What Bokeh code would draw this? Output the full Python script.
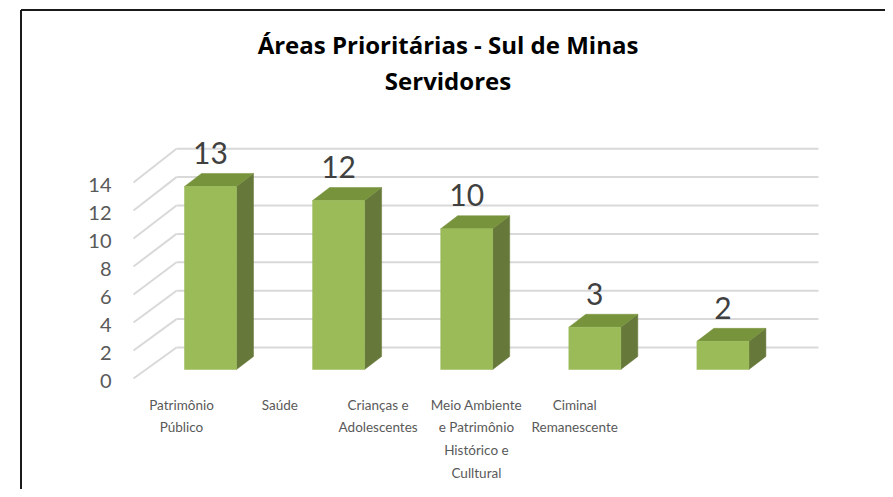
from bokeh.plotting import figure
from bokeh.models import Range1d, ColumnDataSource
from bokeh.core.properties import value
from bokeh.embed import file_html
from bokeh.resources import INLINE

# ---------------- data ----------------
title_lines = ["Áreas Prioritárias - Sul de Minas", "Servidores"]
categories = ["Patrimônio\nPúblico", "Saúde", "Crianças e\nAdolescentes",
              "Meio Ambiente\ne Patrimônio\nHistórico e\nCulltural",
              "Ciminal\nRemanescente"]
values = [13, 12, 10, 3, 2]
y_ticks = [0, 2, 4, 6, 8, 10, 12, 14]

# ---------------- geometry (pixel calibration) ----------------
W, H = 885, 489
X0, DX = 210.0, 128.1   # px of category 0 centre, px per category
Y0, DY = 369.0, 14.08   # px of value 0 on the bar plane, px per unit


def px_x(cx):
    return (cx - X0) / DX


def px_y(cy):
    return (Y0 - cy) / DY


def wall_y(v, off, scale):
    return px_y(off - scale * v)


FONT = "Lato"
GRID = "#d9d9d9"
FRONT = "#9bbb59"
TOP = "#77933c"
SIDE = "#66793a"

p = figure(width=W, height=H,
           x_range=Range1d(px_x(0), px_x(W)), y_range=Range1d(px_y(H), px_y(0)),
           output_backend="svg", toolbar_location=None,
           x_axis_location=None, y_axis_location=None,
           min_border=0, outline_line_color=None, background_fill_color="white",
           border_fill_color="white")
p.grid.visible = False

# ---------------- back wall & side wall grid ----------------
bx0, bx1 = px_x(176), px_x(818)
fx = px_x(133)
grid_src = ColumnDataSource(dict(
    x0=[bx0 for v in y_ticks], x1=[bx1 for v in y_ticks],
    y=[wall_y(v, 347, 14.2) for v in y_ticks]))
p.segment(x0="x0", y0="y", x1="x1", y1="y", source=grid_src,
          line_color=GRID, line_width=2)
diag_src = ColumnDataSource(dict(
    x0=[fx for v in y_ticks], y0=[wall_y(v, 378, 14.0) for v in y_ticks],
    x1=[bx0 for v in y_ticks], y1=[wall_y(v, 347, 14.2) for v in y_ticks]))
p.segment(x0="x0", y0="y0", x1="x1", y1="y1", source=diag_src,
          line_color=GRID, line_width=2)

# ---------------- 3D bars ----------------
hw = 26.0 / DX
ddx = 17.0 / DX
ddy = 13.0 / DY
xs = list(range(len(values)))

side_xs = [[i + hw, i + hw + ddx, i + hw + ddx, i + hw] for i in xs]
side_ys = [[0, ddy, v + ddy, v] for v in values]
top_xs = [[i - hw, i + hw, i + hw + ddx, i - hw + ddx] for i in xs]
top_ys = [[v, v, v + ddy, v + ddy] for v in values]
p.patches(side_xs, side_ys, fill_color=SIDE, line_color=SIDE, line_width=0.5)
p.patches(top_xs, top_ys, fill_color=TOP, line_color=TOP, line_width=0.5)
p.quad(left=[i - hw for i in xs], right=[i + hw for i in xs],
       bottom=[0 for v in values], top=values,
       fill_color=FRONT, line_color=FRONT, line_width=0.5)

# value labels
p.text(x=xs, y=[v + 33.5 / DY for v in values], text=[str(v) for v in values],
       text_font=value(FONT), text_font_size=value("30px"),
       text_color="#404040", text_align="center", text_baseline="alphabetic")

# ---------------- y tick labels (front plane) ----------------
p.text(x=[px_x(111) for v in y_ticks], y=[wall_y(v, 380, 14.0) for v in y_ticks],
       text=[str(v) for v in y_ticks],
       text_font=value(FONT), text_font_size=value("20px"),
       text_color="#595959", text_align="right", text_baseline="middle")

# ---------------- category labels ----------------
p.text(x=[px_x(181 + 98.3 * i) for i in xs], y=[px_y(396) for i in xs],
       text=categories, text_font=value(FONT), text_font_size=value("13.5px"),
       text_color="#595959", text_align="center", text_baseline="top",
       text_line_height=1.42)

# ---------------- title ----------------
p.text(x=[px_x(447.5), px_x(447.5)], y=[px_y(44), px_y(80)], text=title_lines,
       text_font=value("Open Sans"), text_font_size=value("24px"), text_font_style="bold",
       text_color="#000000", text_align="center", text_baseline="alphabetic")

# ---------------- outer frame (left & top edges) ----------------
p.line(x=[px_x(20.5), px_x(20.5)], y=[px_y(H), px_y(9.5)], line_color="#1a1a1a", line_width=2)
p.line(x=[px_x(20.5), px_x(W)], y=[px_y(9.5), px_y(9.5)], line_color="#1a1a1a", line_width=2)

open("out.html", "w").write(file_html(p, INLINE))
